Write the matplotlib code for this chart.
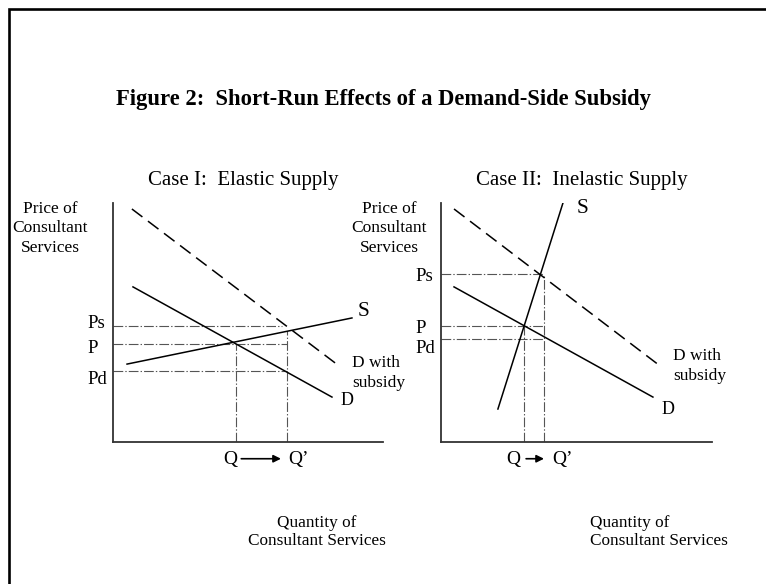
import matplotlib
matplotlib.use("Agg")
import matplotlib.pyplot as plt
from matplotlib.patches import Rectangle

plt.rcParams['font.family'] = ['Liberation Serif', 'DejaVu Serif']
plt.rcParams['lines.scale_dashes'] = False

# ---- data (both panels share the same 0..10 units) ----
# Case I: elastic supply
el_demand_x = [0.74, 8.11]
el_demand_y = [6.49, 1.88]
el_subsidy_x = [0.70, 8.33]
el_subsidy_y = [9.75, 3.22]
el_supply_x = [0.52, 8.85]
el_supply_y = [3.26, 5.19]
el_price_names = ['Ps', 'P', 'Pd']
el_prices = [4.85, 4.08, 2.97]
el_price_ends = [6.26, 6.44, 6.44]
el_q = 4.56
el_q2 = 6.44
el_q2_top = 4.63

# Case II: inelastic supply
in_demand_x = [0.48, 7.82]
in_demand_y = [6.49, 1.88]
in_subsidy_x = [0.48, 8.04]
in_subsidy_y = [9.75, 3.22]
in_supply_x = [2.10, 4.50]
in_supply_y = [1.38, 10.0]
in_price_names = ['Ps', 'P', 'Pd']
in_prices = [7.03, 4.85, 4.33]
in_price_ends = [3.80, 3.80, 3.80]
in_q = 3.06
in_q2 = 3.80
in_q2_top = 7.03

title = 'Figure 2:  Short-Run Effects of a Demand-Side Subsidy'
subtitles = ['Case I:  Elastic Supply', 'Case II:  Inelastic Supply']
ylabel = 'Price of\nConsultant\nServices'
xlabel = 'Quantity of\nConsultant Services'

W, H = 766, 584
fig = plt.figure(figsize=(W / 100, H / 100), dpi=100)

# outer frame (only left and top edges are visible)
fig.add_artist(Rectangle((8.5 / W, -0.1), 1.2, 1.1 - 9.2 / H,
                         transform=fig.transFigure, fill=False,
                         lw=1.9, ec='black'))

fig.text(384 / W, 1 - 99 / H, title, ha='center', va='center',
         fontsize=16.3, fontweight='bold')
fig.text(243 / W, 1 - 180 / H, subtitles[0], ha='center', va='center', fontsize=15)
fig.text(582 / W, 1 - 180 / H, subtitles[1], ha='center', va='center', fontsize=15)

guide = dict(color='#555555', lw=0.8, ls=(0, (7, 1.5, 1, 1.5)))
curve = dict(color='black', lw=1.1)


def panel(rect, dx, dy, sx, sy, sux, suy, names, prices, ends, q, q2, q2_top,
          pd_off, ylab_x, qlab, s_pos, dsub_pos, d_pos, xlab_pos, xlab_ha):
    ax = fig.add_axes(rect)
    ax.set_xlim(0, 10)
    ax.set_ylim(0, 10)
    ax.set_xticks([])
    ax.set_yticks([])
    for side in ['top', 'right']:
        ax.spines[side].set_visible(False)
    for side in ['left', 'bottom']:
        ax.spines[side].set_color('#333333')
        ax.spines[side].set_linewidth(1.3)

    # guide lines
    for p, e in zip(prices, ends):
        ax.plot([0, e], [p, p], **guide)
    ax.plot([q, q], [0, prices[1]], **guide)
    ax.plot([q2, q2], [0, q2_top], **guide)

    ax.plot(sx, sy, color='black', lw=1.1, ls=(0, (9.5, 5)))
    ax.plot(dx, dy, **curve)
    ax.plot(sux, suy, **curve)

    # price labels
    for name, p, off in zip(names, prices, pd_off):
        ax.annotate(name, (-0.95, p), xytext=(0, off), textcoords='offset points',
                    ha='left', va='center', fontsize=13.5, annotation_clip=False)

    ax.text(ylab_x, 10.1, ylabel, ha='center', va='top', fontsize=12.5,
            linespacing=1.3, clip_on=False)

    # Q -> Q'
    qx, a0, a1, q2x = qlab
    ax.text(qx, -0.75, 'Q', ha='center', va='center', fontsize=14, clip_on=False)
    ax.annotate('', xy=(a1, -0.7), xytext=(a0, -0.7),
                arrowprops=dict(arrowstyle='-|>', color='black', lw=1.2,
                                mutation_scale=11, shrinkA=0, shrinkB=0),
                annotation_clip=False)
    ax.text(q2x, -0.75, "Q\u2019", ha='left', va='center', fontsize=14, clip_on=False)

    ax.text(s_pos[0], s_pos[1], 'S', ha='left', va='center', fontsize=15.5, clip_on=False)
    ax.text(dsub_pos[0], dsub_pos[1], 'D with\nsubsidy', ha='left', va='center',
            fontsize=12.5, linespacing=1.35, clip_on=False)
    ax.text(d_pos[0], d_pos[1], 'D', ha='left', va='center', fontsize=13, clip_on=False)
    ax.text(xlab_pos[0], xlab_pos[1], xlabel, ha=xlab_ha, va='center', fontsize=12.4,
            linespacing=1.2, multialignment=xlab_ha, clip_on=False)
    return ax


panel([113 / W, 1 - 442 / H, 270 / W, 239 / H],
      el_demand_x, el_demand_y, el_subsidy_x, el_subsidy_y, el_supply_x, el_supply_y,
      el_price_names, el_prices, el_price_ends, el_q, el_q2, el_q2_top,
      [2, -3, -6], -2.33, (4.33, 4.75, 6.22, 6.48),
      (9.07, 5.44), (8.85, 2.89), (8.41, 1.72), (7.56, -3.77), 'center')

panel([441 / W, 1 - 442 / H, 271 / W, 239 / H],
      in_demand_x, in_demand_y, in_subsidy_x, in_subsidy_y, in_supply_x, in_supply_y,
      in_price_names, in_prices, in_price_ends, in_q, in_q2, in_q2_top,
      [-2, -1.5, -7.5], -1.92, (2.68, 3.14, 3.80, 4.10),
      (5.02, 9.79), (8.56, 3.18), (8.12, 1.38), (5.50, -3.77), 'left')

fig.savefig('out.png', dpi=100)
